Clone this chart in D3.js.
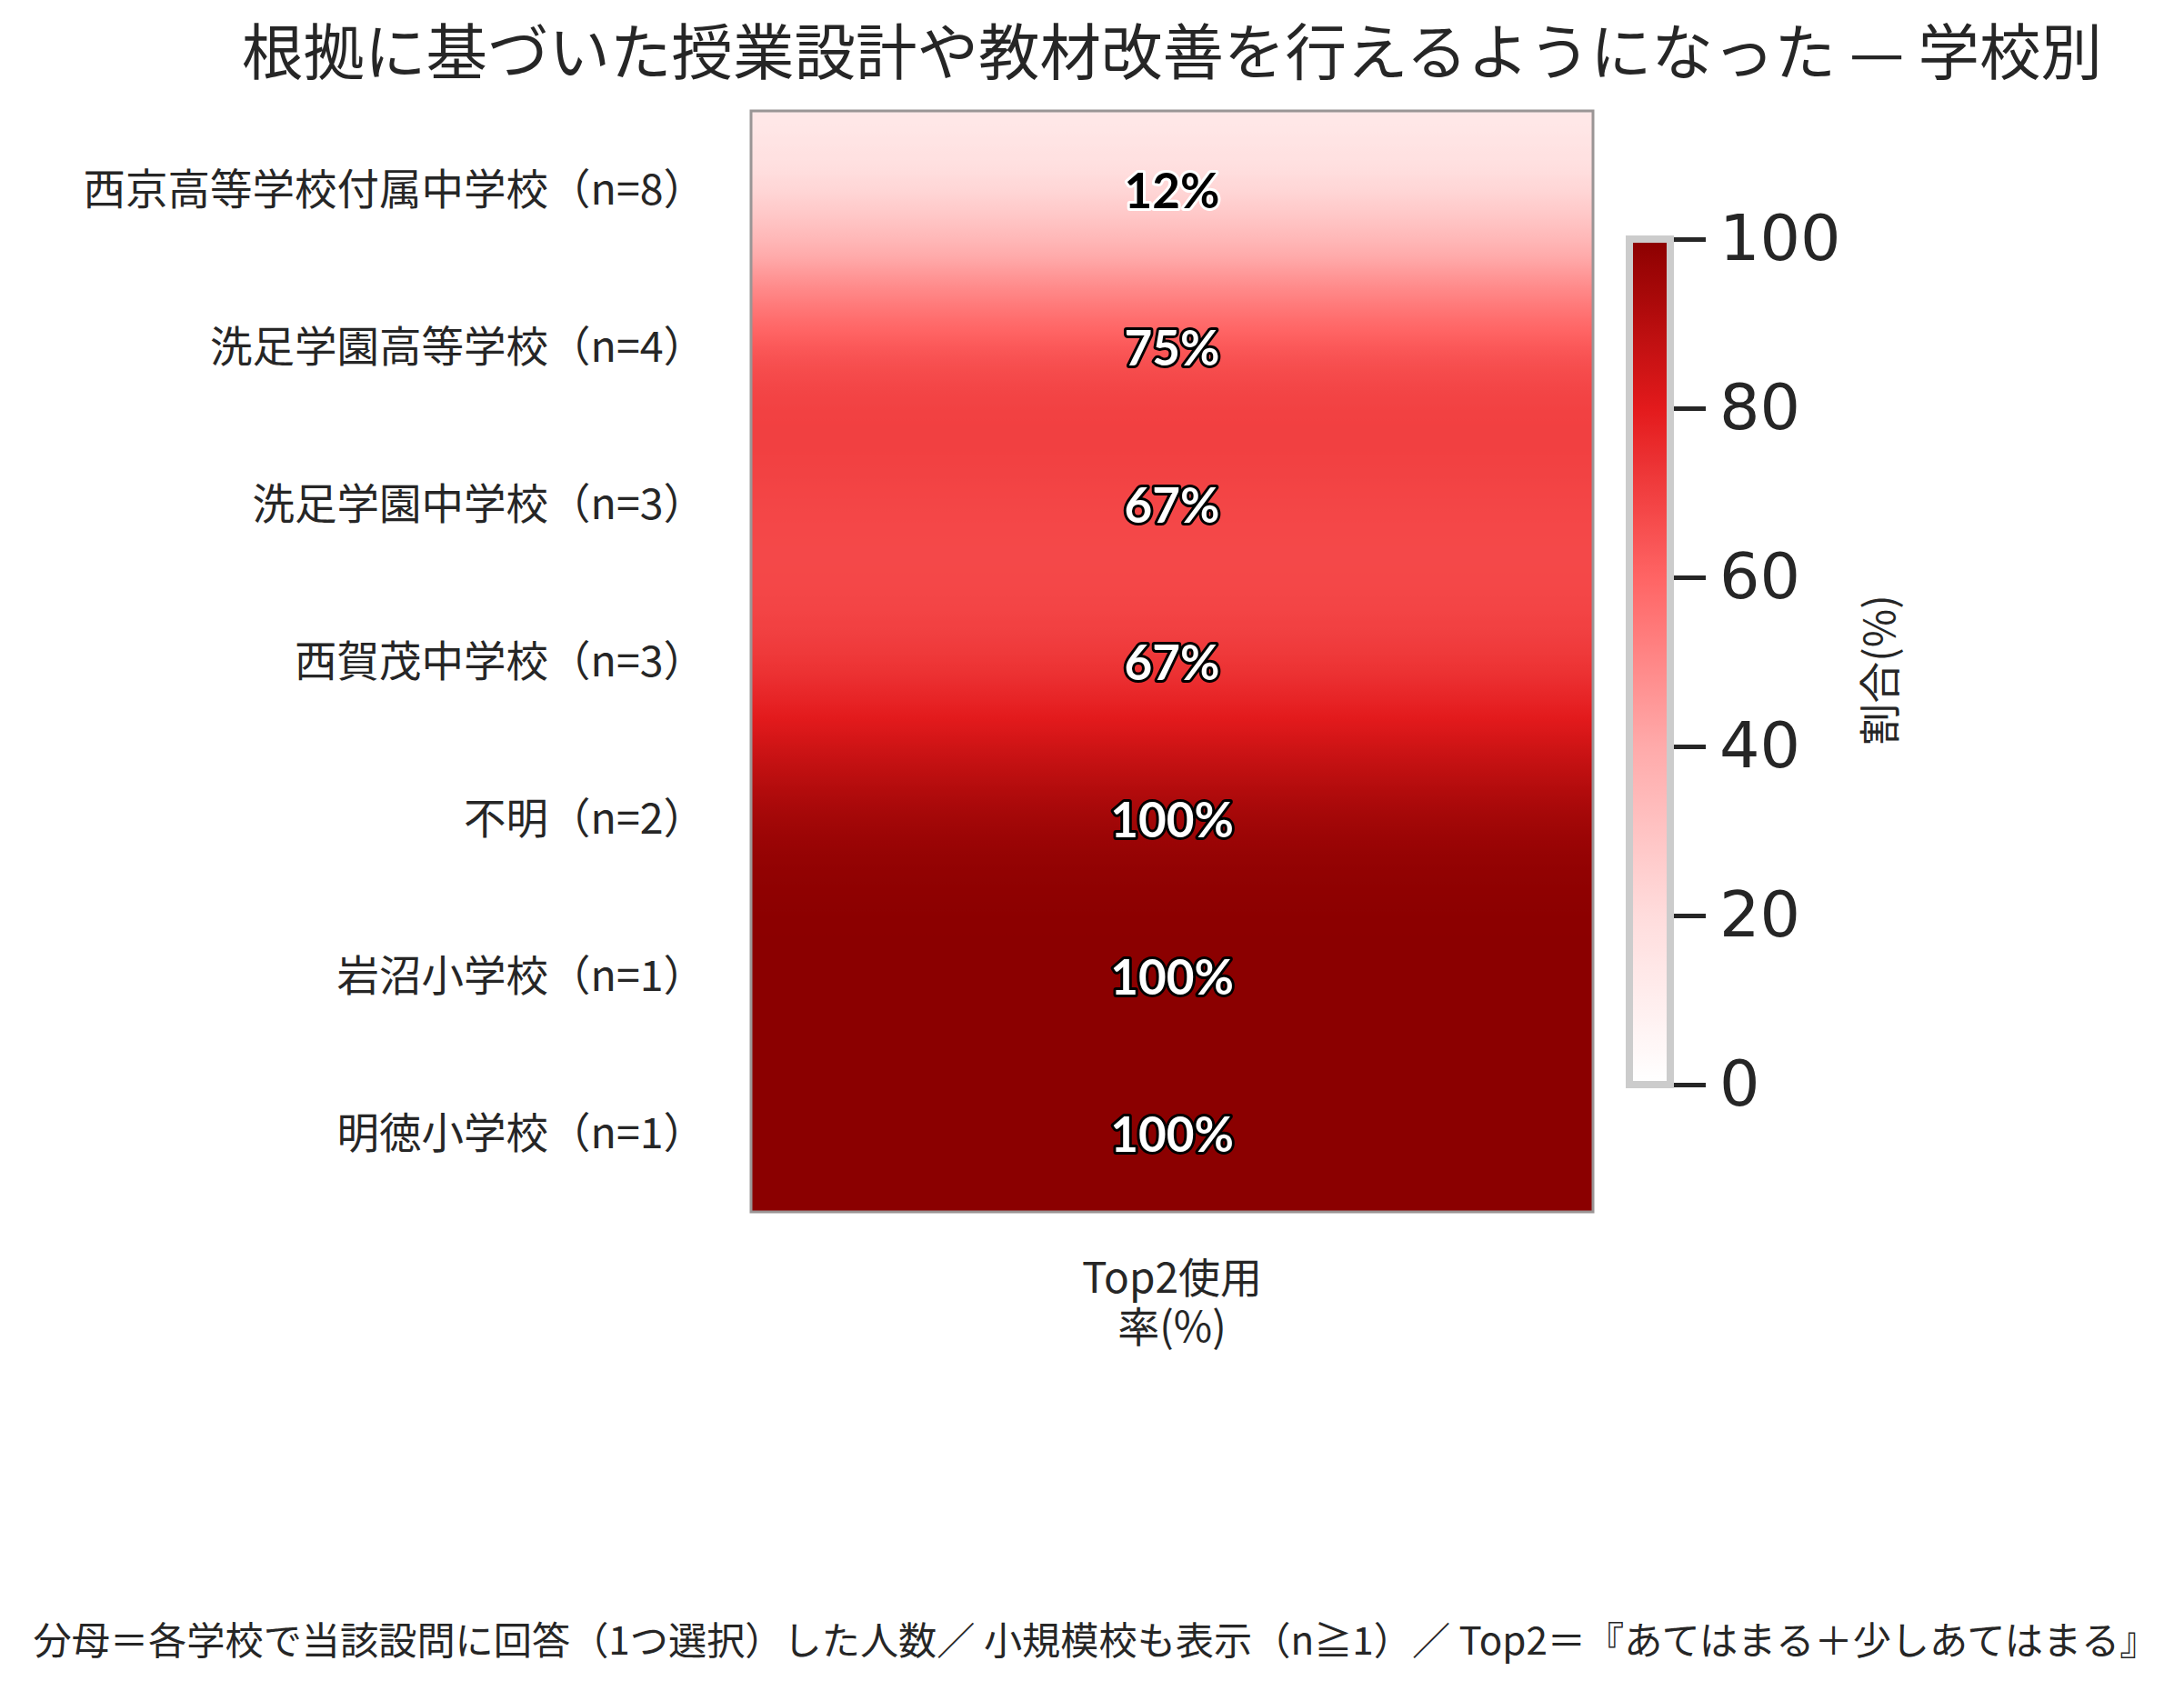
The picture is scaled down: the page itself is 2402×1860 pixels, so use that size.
<!DOCTYPE html>
<html><head><meta charset="utf-8">
<script src="https://cdn.jsdelivr.net/npm/d3@7"></script>
<style>body{margin:0;background:#fff}</style>
</head><body>
<svg id="chart" width="2402" height="1860" xmlns="http://www.w3.org/2000/svg"></svg>
<script>
// ---- data ----
const schools = ["西京高等学校付属中学校（n=8）", "洗足学園高等学校（n=4）", "洗足学園中学校（n=3）", "西賀茂中学校（n=3）", "不明（n=2）", "岩沼小学校（n=1）", "明徳小学校（n=1）"];
const top2Rate = [12, 75, 67, 67, 100, 100, 100];
const columns = ["Top2使用率(%)"];
const columnLines = ["Top2使用", "率(%)"];
const colorbarTicks = [0, 20, 40, 60, 80, 100];
const cmapStops = [0, 20, 40, 60, 80, 100];
const cmapColors = ["#ffffff", "#ffdcdc", "#ffaaaa", "#ff6464", "#e31a1c", "#8b0000"];
const titleText = "根拠に基づいた授業設計や教材改善を行えるようになった — 学校別";
const footerText = "分母＝各学校で当該設問に回答（1つ選択）した人数／ 小規模校も表示（n≧1）／ Top2＝『あてはまる＋少しあてはまる』";
const colorbarLabel = "割合(%)";

// ---- setup ----
const svg = d3.select("#chart");
const jp = "'Noto Sans CJK JP', 'Noto Sans', sans-serif";
const textColor = "#262626";
const color = d3.scaleLinear().domain(cmapStops).range(cmapColors).interpolate(d3.interpolateRgb).clamp(true);

const x = d3.scaleBand().domain(columns).range([826, 1752]);
const y = d3.scaleBand().domain(schools).range([122, 1333]);
const defs = svg.append("defs");

// smoothed rendering of the cell column (bicubic B-spline resampling like an interpolated image)
function B3(t) {
  const a = Math.abs(t);
  if (a < 1) return (4 - 6 * a * a + 3 * a * a * a) / 6;
  if (a < 2) return Math.pow(2 - a, 3) / 6;
  return 0;
}
function smoothAt(t) {
  let s = 0;
  const k0 = Math.floor(t);
  for (let k = k0 - 2; k <= k0 + 3; k++) {
    const kk = Math.max(0, Math.min(top2Rate.length - 1, k));
    s += top2Rate[kk] * B3(t - k);
  }
  return s;
}

const cells = svg.append("g");
schools.forEach((s, i) => {
  const gid = "cellgrad" + i;
  const g = defs.append("linearGradient").attr("id", gid)
    .attr("x1", 0).attr("x2", 0).attr("y1", 0).attr("y2", 1);
  const N = 40;
  for (let j = 0; j <= N; j++) {
    const f = j / N;
    g.append("stop").attr("offset", f).attr("stop-color", color(smoothAt(i - 0.5 + f)));
  }
  cells.append("rect")
    .attr("x", x(columns[0])).attr("width", x.bandwidth())
    .attr("y", y(s)).attr("height", y.bandwidth() + (i < schools.length - 1 ? 0.6 : 0))
    .attr("fill", `url(#${gid})`);
});

// frame
svg.append("rect")
  .attr("x", x.range()[0]).attr("y", y.range()[0])
  .attr("width", x.range()[1] - x.range()[0]).attr("height", y.range()[1] - y.range()[0])
  .attr("fill", "none").attr("stroke", "#9a9595").attr("stroke-width", 3);

// value labels
svg.append("g").selectAll("text").data(schools).join("text")
  .attr("x", x(columns[0]) + x.bandwidth() / 2)
  .attr("y", d => y(d) + y.bandwidth() / 2)
  .attr("text-anchor", "middle").attr("dominant-baseline", "central")
  .attr("font-family", "Lato, 'Noto Sans', sans-serif").attr("font-weight", "bold").attr("font-size", 53)
  .attr("fill", (d, i) => top2Rate[i] < 50 ? "#000" : "#fff")
  .attr("stroke", (d, i) => top2Rate[i] < 50 ? "#fff" : "#000")
  .attr("stroke-width", 6).attr("stroke-linejoin", "round").attr("paint-order", "stroke")
  .text((d, i) => top2Rate[i] + "%");

// y axis labels
const yAxis = d3.axisLeft(y).tickSize(0).tickPadding(50);
const gy = svg.append("g").attr("transform", `translate(${x.range()[0]},0)`).call(yAxis);
gy.select(".domain").remove();
gy.selectAll("text").attr("font-family", jp).attr("font-size", 46.5).attr("fill", textColor).attr("dy", "0.35em");

// x axis label (two lines)
const xAxis = d3.axisBottom(x).tickSize(0).tickFormat(() => "");
const gx = svg.append("g").attr("transform", `translate(0,${y.range()[1]})`).call(xAxis);
gx.select(".domain").remove();
gx.selectAll(".tick").each(function () {
  const t = d3.select(this).append("text").attr("fill", textColor)
    .attr("font-family", jp).attr("font-size", 46).attr("text-anchor", "middle");
  columnLines.forEach((ln, k) => t.append("tspan").attr("x", 0).attr("y", 89 + k * 54).text(ln));
});

// title
svg.append("text").attr("x", x(columns[0]) + x.bandwidth() / 2).attr("y", 82)
  .attr("text-anchor", "middle").attr("font-family", jp).attr("font-size", 67.5).attr("fill", textColor)
  .text(titleText);

// colorbar
const cb = d3.scaleLinear().domain([0, 100]).range([1193, 263]);
const cbg = defs.append("linearGradient").attr("id", "cbgrad").attr("x1", 0).attr("x2", 0).attr("y1", 1).attr("y2", 0);
d3.range(0, 101, 2).forEach(v => cbg.append("stop").attr("offset", v / 100).attr("stop-color", color(v)));
svg.append("rect").attr("x", 1792).attr("width", 45).attr("y", cb(100)).attr("height", cb(0) - cb(100))
  .attr("fill", "url(#cbgrad)").attr("stroke", "#cccccc").attr("stroke-width", 8);
const cbAxis = d3.axisRight(cb).tickValues(colorbarTicks).tickSize(35).tickPadding(15);
const gcb = svg.append("g").attr("transform", "translate(1841,0)").call(cbAxis);
gcb.select(".domain").remove();
gcb.selectAll(".tick line").attr("stroke", textColor).attr("stroke-width", 5);
gcb.selectAll(".tick text").attr("font-family", "'DejaVu Sans', sans-serif").attr("font-size", 70).attr("fill", textColor);
svg.append("text").attr("transform", "translate(2084,737) rotate(-90)")
  .attr("text-anchor", "middle").attr("font-family", jp).attr("font-size", 46).attr("fill", textColor)
  .text(colorbarLabel);

// footer
svg.append("text").attr("x", 1205).attr("y", 1820).attr("text-anchor", "middle")
  .attr("font-family", jp).attr("font-size", 42.2).attr("fill", textColor).text(footerText);
</script>
</body></html>
